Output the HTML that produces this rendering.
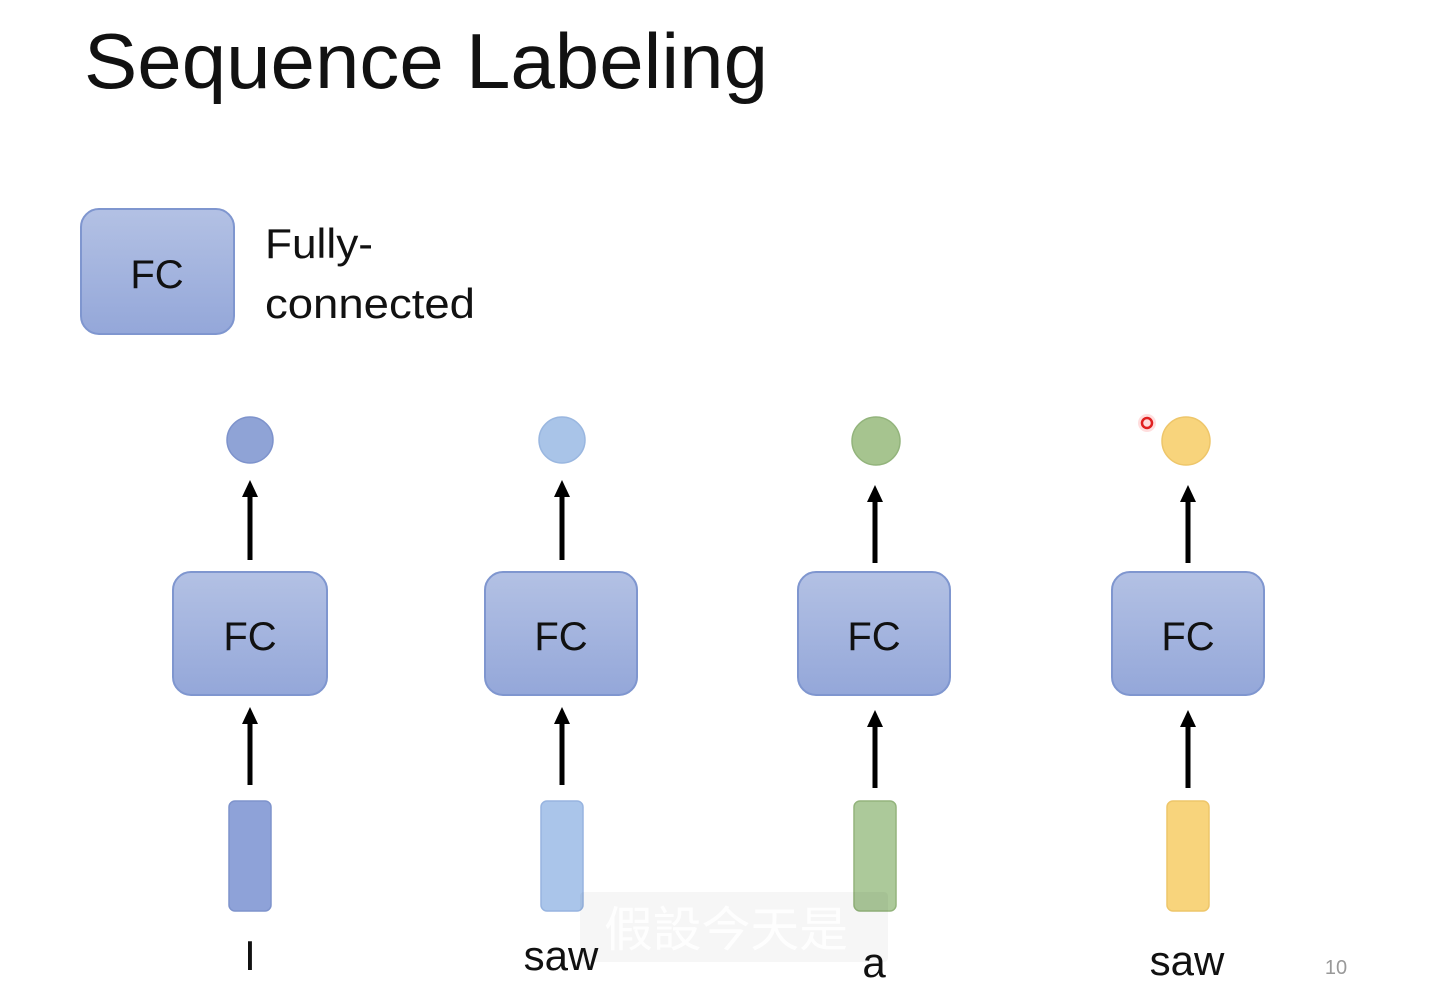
<!DOCTYPE html>
<html><head><meta charset="utf-8"><style>
html,body{margin:0;padding:0;background:#fff;}
svg{display:block;}
text{font-family:"Liberation Sans","Noto Sans CJK TC",sans-serif;}
</style></head><body>
<svg width="1436" height="988" viewBox="0 0 1436 988" xmlns="http://www.w3.org/2000/svg">
<defs>
<linearGradient id="fc" x1="0" y1="0" x2="0" y2="1"><stop offset="0" stop-color="#b3c1e4"/><stop offset="1" stop-color="#94a7d9"/></linearGradient>
</defs>
<text x="84" y="88" font-size="78" fill="#111" textLength="684" lengthAdjust="spacingAndGlyphs">Sequence Labeling</text>
<rect x="81" y="209" width="153" height="125" rx="18" fill="url(#fc)" stroke="#7f96cf" stroke-width="2"/>
<text x="157" y="288" font-size="40" text-anchor="middle" fill="#111">FC</text>
<text x="265" y="258" font-size="42" fill="#111" textLength="108" lengthAdjust="spacingAndGlyphs">Fully-</text>
<text x="265" y="318" font-size="42" fill="#111" textLength="210" lengthAdjust="spacingAndGlyphs">connected</text>
<g stroke="#000" stroke-width="5">
<line x1="250" y1="560" x2="250" y2="495"/><line x1="250" y1="785" x2="250" y2="722"/>
<line x1="562" y1="560" x2="562" y2="495"/><line x1="562" y1="785" x2="562" y2="722"/>
<line x1="875" y1="563" x2="875" y2="500"/><line x1="875" y1="788" x2="875" y2="725"/>
<line x1="1188" y1="563" x2="1188" y2="500"/><line x1="1188" y1="788" x2="1188" y2="725"/>
</g>
<g fill="#000">
<path d="M242,497 L250,480 L258,497z"/><path d="M242,724 L250,707 L258,724z"/>
<path d="M554,497 L562,480 L570,497z"/><path d="M554,724 L562,707 L570,724z"/>
<path d="M867,502 L875,485 L883,502z"/><path d="M867,727 L875,710 L883,727z"/>
<path d="M1180,502 L1188,485 L1196,502z"/><path d="M1180,727 L1188,710 L1196,727z"/>
</g>
<g stroke="#7f96cf" stroke-width="2" fill="url(#fc)">
<rect x="173" y="572" width="154" height="123" rx="18"/>
<rect x="485" y="572" width="152" height="123" rx="18"/>
<rect x="798" y="572" width="152" height="123" rx="18"/>
<rect x="1112" y="572" width="152" height="123" rx="18"/>
</g>
<g font-size="40" text-anchor="middle" fill="#111">
<text x="250" y="650">FC</text><text x="561" y="650">FC</text><text x="874" y="650">FC</text><text x="1188" y="650">FC</text>
</g>
<circle cx="250" cy="440" r="23" fill="#8fa3d6" stroke="#7e93cc" stroke-width="1.5"/>
<circle cx="562" cy="440" r="23" fill="#a9c4e8" stroke="#9ab7e0" stroke-width="1.5"/>
<circle cx="876" cy="441" r="24" fill="#a6c48f" stroke="#93b47c" stroke-width="1.5"/>
<circle cx="1186" cy="441" r="24" fill="#f8d47c" stroke="#eec66a" stroke-width="1.5"/>
<circle cx="1147" cy="423" r="9" fill="#ffd0d0" opacity="0.7"/>
<circle cx="1147" cy="423" r="5" fill="none" stroke="#e02020" stroke-width="2.5"/>
<rect x="229" y="801" width="42" height="110" rx="6" fill="#8ea2d8" stroke="#7e93cc" stroke-width="1.5"/>
<rect x="541" y="801" width="42" height="110" rx="6" fill="#aac5ea" stroke="#97b4e0" stroke-width="1.5"/>
<rect x="854" y="801" width="42" height="110" rx="6" fill="#acc99a" stroke="#93b47c" stroke-width="1.5"/>
<rect x="1167" y="801" width="42" height="110" rx="6" fill="#f8d47c" stroke="#eec66a" stroke-width="1.5"/>
<rect x="580" y="892" width="308" height="70" rx="4" fill="#000" opacity="0.035"/>
<text x="604" y="946" font-size="48" fill="#ffffff" opacity="0.9" textLength="244" lengthAdjust="spacingAndGlyphs">假設今天是</text>
<g font-size="42" text-anchor="middle" fill="#111">
<text x="250" y="970">I</text><text x="561" y="970">saw</text><text x="874" y="977">a</text><text x="1187" y="975">saw</text>
</g>
<text x="1336" y="974" font-size="20" text-anchor="middle" fill="#999">10</text>
</svg>
</body></html>
